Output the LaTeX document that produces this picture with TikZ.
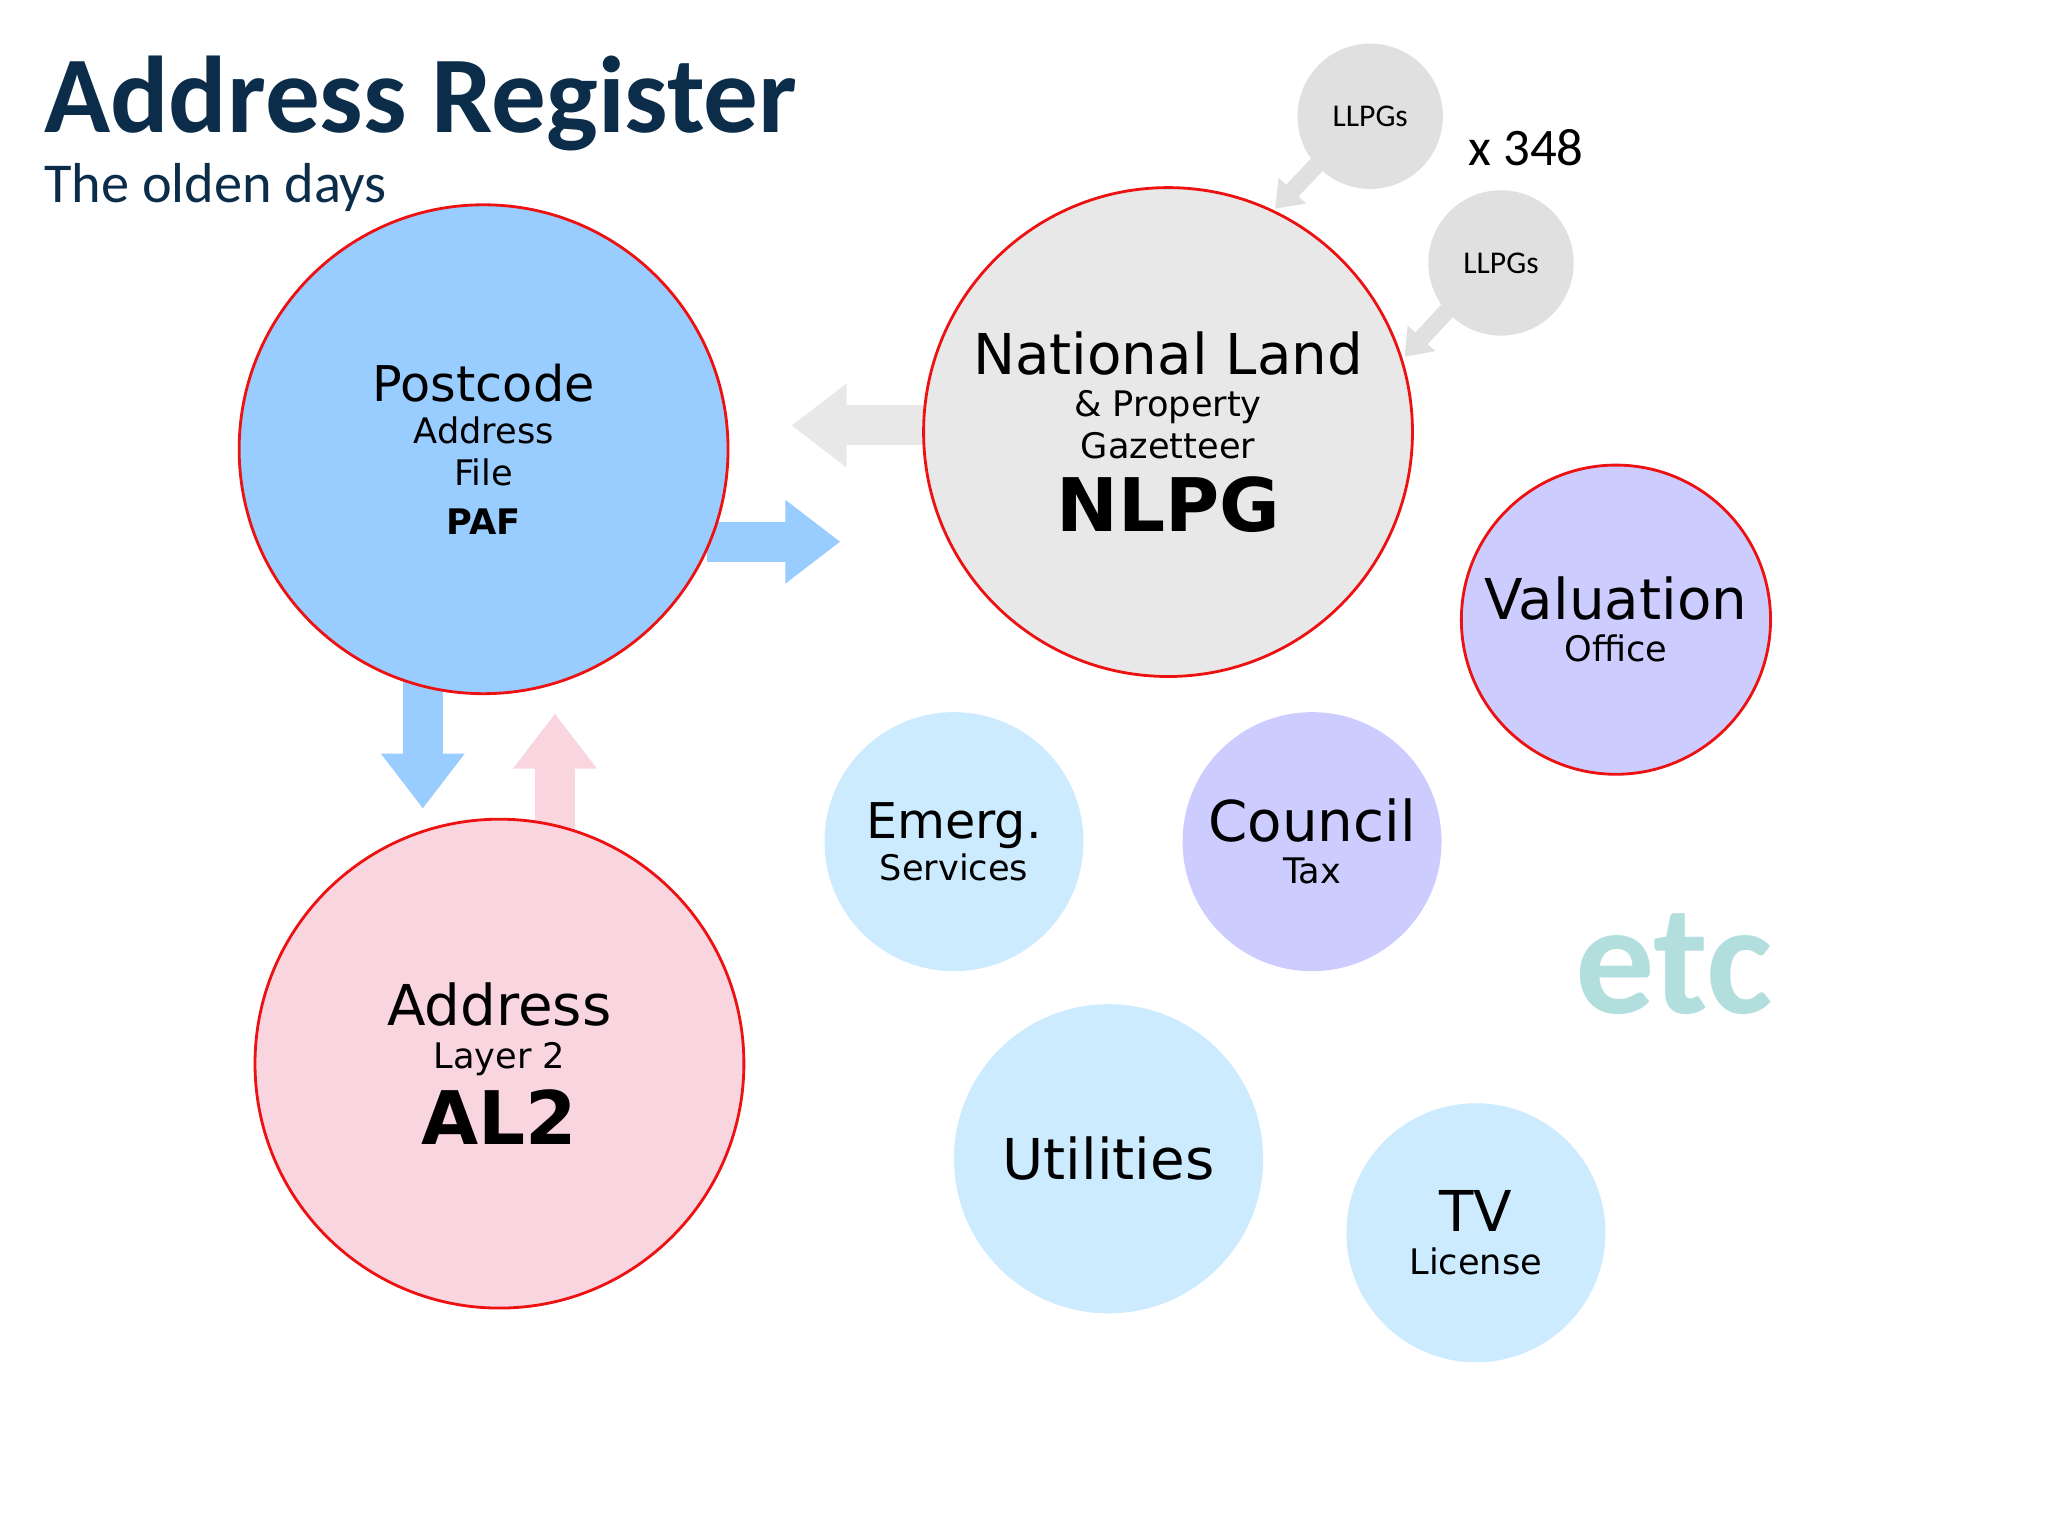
\documentclass[tikz,border=0pt]{standalone}
\usepackage{fontspec}
\setmainfont{DejaVu Sans}
\newfontfamily\carlito{Carlito}
\usetikzlibrary{arrows.meta}
\definecolor{pafblue}{HTML}{99CCFF}
\definecolor{nlpggrey}{HTML}{E8E8E8}
\definecolor{alpink}{HTML}{F9D5E0}
\definecolor{lilac}{HTML}{CCCCFF}
\definecolor{skyblue}{HTML}{CCEBFF}
\definecolor{llpggrey}{HTML}{E0E0E0}
\definecolor{titleblue}{HTML}{0B2D4A}
\definecolor{etcgreen}{HTML}{B3DEDE}
\definecolor{ringred}{HTML}{EE1111}
\begin{document}
\begin{tikzpicture}[x=0.0132cm,y=-0.0132cm,
  bubble/.style={circle,inner sep=0pt,align=center},
  ring/.style={bubble,draw=ringred,line width=0.8pt},
  block/.style={line width=0.4cm,-{Triangle[width=0.8cm,length=0.55cm]}},
  small/.style={line width=0.17cm,-{Triangle[width=0.36cm,length=0.25cm]}}]
\useasboundingbox[fill=white] (0,0) rectangle (1550,1163);

% title
\node[anchor=base west,inner sep=0pt,text=titleblue,font=\carlito\bfseries\fontsize{31}{31}\selectfont] (title) at (33,100) {Address Register};
\node[anchor=base west,inner sep=0pt,text=titleblue,font=\carlito\fontsize{16}{16}\selectfont] (sub) at (33,153) {The olden days};

% arrow ends
\coordinate (a1s) at (535,410); \coordinate (a1e) at (636,410);
\coordinate (a2s) at (699,322); \coordinate (a2e) at (599,322);
\coordinate (a3s) at (320,515); \coordinate (a3e) at (320,612);
\coordinate (a4s) at (420,630); \coordinate (a4e) at (420,540);
\coordinate (a5s) at (1003,118); \coordinate (a5e) at (965,158);
\coordinate (a6s) at (1100,230); \coordinate (a6e) at (1063,270);

\draw[block,draw=pafblue] (a1s) -- (a1e);
\draw[block,draw=nlpggrey] (a2s) -- (a2e);
\draw[block,draw=pafblue] (a3s) -- (a3e);
\draw[block,draw=alpink] (a4s) -- (a4e);
\draw[small,draw=llpggrey] (a5s) -- (a5e);
\draw[small,draw=llpggrey] (a6s) -- (a6e);

% main circles
\node[ring,fill=pafblue,minimum size=370*0.0132cm] (paf) at (366,340)
  {\fontsize{14}{13.5}\selectfont Postcode\\Address\\File\\[2pt]\bfseries PAF};
\node[ring,fill=nlpggrey,minimum size=370*0.0132cm] (nlpg) at (884,327)
  {\fontsize{16}{15}\selectfont National Land\\\& Property\\Gazetteer\\[4pt]\bfseries\fontsize{21}{21}\selectfont NLPG};
\node[ring,fill=alpink,minimum size=370*0.0132cm] (al2) at (378,805)
  {\fontsize{16}{15}\selectfont Address\\Layer 2\\[3pt]\bfseries\fontsize{21}{21}\selectfont AL2};
\node[ring,fill=lilac,minimum size=234*0.0132cm] (vo) at (1223,469)
  {\fontsize{16}{19.5}\selectfont Valuation\\Office};

% other circles
\node[bubble,fill=lilac,minimum size=196*0.0132cm] (ct) at (993,637)
  {\fontsize{16}{15}\selectfont Council\\Tax};
\node[bubble,fill=skyblue,minimum size=196*0.0132cm] (es) at (722,637)
  {\fontsize{14}{13.5}\selectfont Emerg.\\Services};
\node[bubble,fill=skyblue,minimum size=234*0.0132cm] (ut) at (839,877)
  {\fontsize{16}{15}\selectfont Utilities};
\node[bubble,fill=skyblue,minimum size=196*0.0132cm] (tv) at (1117,933)
  {\fontsize{16}{15}\selectfont TV\\License};
\node[bubble,fill=llpggrey,minimum size=110*0.0132cm,font=\carlito\fontsize{9}{9}\selectfont] (l1) at (1037,88) {LLPGs};
\node[bubble,fill=llpggrey,minimum size=110*0.0132cm,font=\carlito\fontsize{9}{9}\selectfont] (l2) at (1136,199) {LLPGs};

\node[inner sep=0pt,font=\carlito\fontsize{15}{15}\selectfont] (x348) at (1155,112) {x 348};
\node[inner sep=0pt,text=etcgreen,font=\carlito\bfseries\fontsize{45}{45}\selectfont] (etc) at (1267,730) {etc};
\end{tikzpicture}
\end{document}
